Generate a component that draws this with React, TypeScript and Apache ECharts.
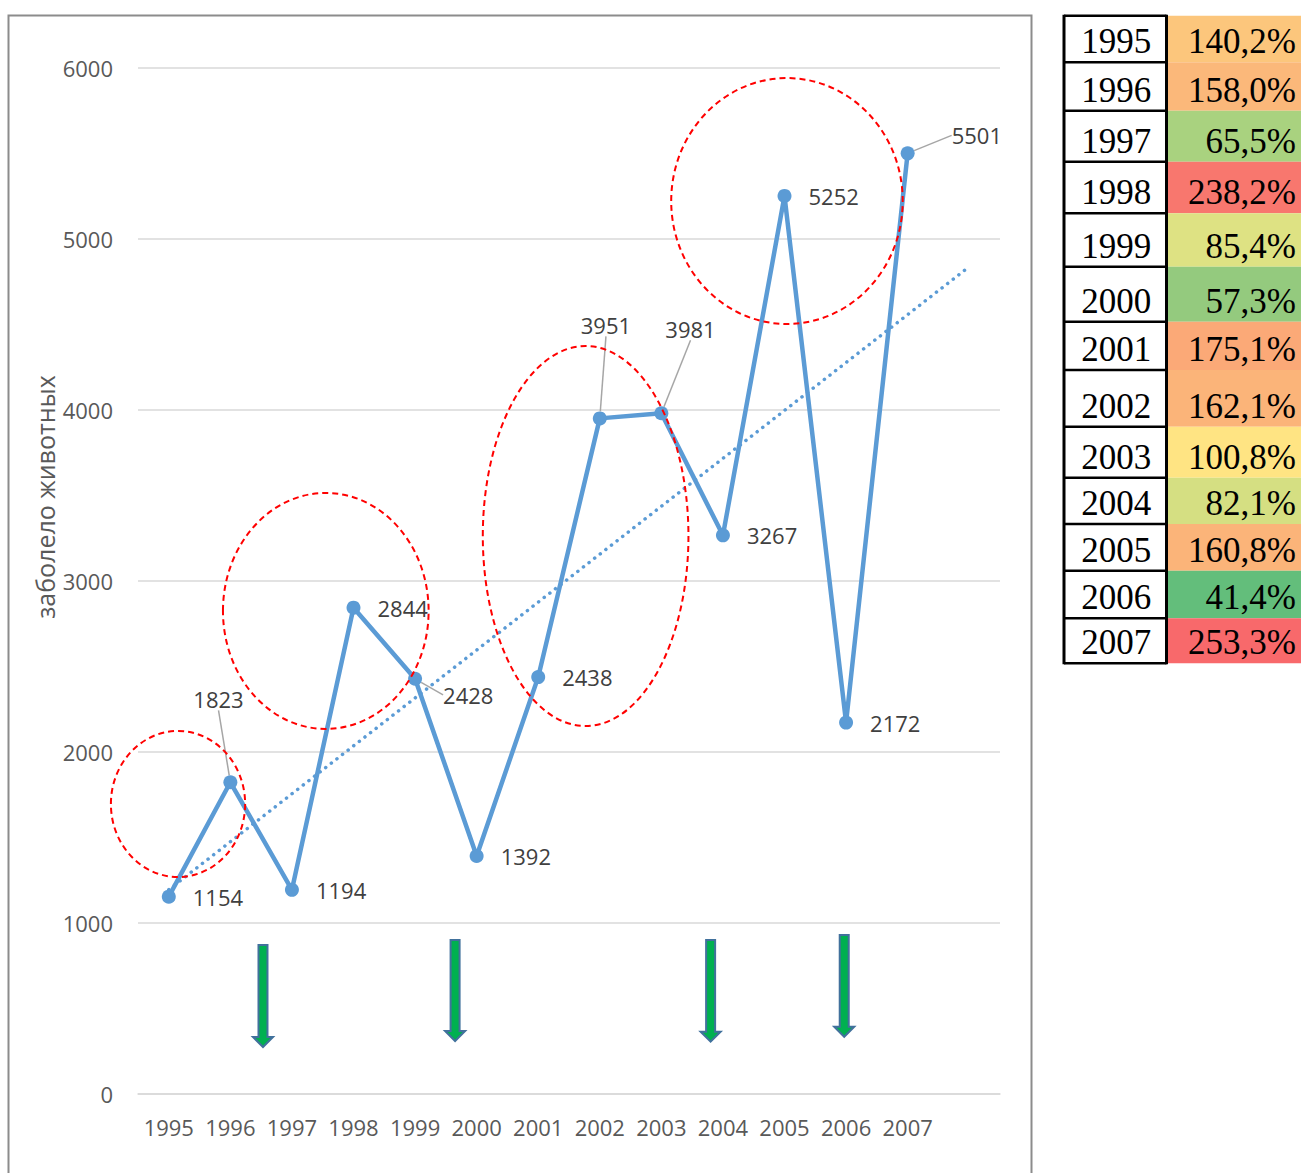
import React, { useEffect, useRef } from "react";
import * as echarts from "echarts";

// ---------- data ----------
const years = ["1995", "1996", "1997", "1998", "1999", "2000", "2001", "2002", "2003", "2004", "2005", "2006", "2007"];
const sickAnimals = [1154, 1823, 1194, 2844, 2428, 1392, 2438, 3951, 3981, 3267, 5252, 2172, 5501];
// linear trend: value at 1995 and one period after 2007
const trendStartEnd = [1195, 4838];
const growthLabels = ["140,2%", "158,0%", "65,5%", "238,2%", "85,4%", "57,3%", "175,1%", "162,1%", "100,8%", "82,1%", "160,8%", "41,4%", "253,3%"];
const growthColors = ["#FCC67C", "#FBB87A", "#A9D27F", "#F8776E", "#DEE283", "#94CA7E", "#FBA977", "#FBB479", "#FFE483", "#D5DF82", "#FBB479", "#63BE7B", "#F8696B"];
const yAxisName = "заболело животных";

// ---------- layout / annotations ----------
const labelShift: number[][] = [[0, 0], [-61, -83], [0, 0], [0, 0], [4, 16], [0, 0], [0, 0], [-43, -93], [-20, -84], [0, 0], [0, 0], [0, 0], [20, -18]];
// ellipse: centre (category index, value), radii (category units, value units)
const ellipses = [
  { cx: 0.15, cy: 1696, rx: 1.09, ry: 427 },
  { cx: 2.55, cy: 2825, rx: 1.67, ry: 690 },
  { cx: 6.77, cy: 3263, rx: 1.67, ry: 1111 },
  { cx: 10.04, cy: 5222, rx: 1.88, ry: 719 },
];
const arrows = [
  { ix: 1.53, top: 871, tip: 275 },
  { ix: 4.65, top: 901, tip: 310 },
  { ix: 8.8, top: 901, tip: 306 },
  { ix: 10.97, top: 930, tip: 335 },
];
const tableRows = [15.7, 62.3, 110.7, 161.7, 213.3, 266.7, 321.7, 370, 426.7, 477.7, 524, 570.7, 618.3, 663.3];

const FONT = "Open Sans";
const SERIF = "Liberation Serif";

export default function App() {
  const ref = useRef<HTMLDivElement>(null);
  useEffect(() => {
    document.body.style.margin = "0";
    const chart = echarts.init(ref.current!, null, { renderer: "svg" });
    const cats = [...years, ""];
    const trendData: any[] = [[0, trendStartEnd[0]], [cats.length - 1, trendStartEnd[1]]];
    chart.setOption({
      animation: false,
      backgroundColor: "#ffffff",
      grid: { left: 138, right: 301, top: 68, bottom: 79, containLabel: false },
      xAxis: {
        type: "category",
        data: cats,
        boundaryGap: true,
        axisLine: { show: true, lineStyle: { color: "#D9D9D9", width: 1.5 } },
        axisTick: { show: false },
        axisLabel: { color: "#595959", fontSize: 22, fontFamily: FONT, margin: 22, interval: 0 },
      },
      yAxis: {
        type: "value",
        min: 0,
        max: 6000,
        interval: 1000,
        axisLine: { show: false },
        axisTick: { show: false },
        axisLabel: { color: "#595959", fontSize: 22, fontFamily: FONT, margin: 25, formatter: (v: number) => String(v) },
        splitLine: { lineStyle: { color: "#D9D9D9", width: 1.5 } },
      },
      series: [
        {
          type: "line",
          data: trendData,
          symbol: "none",
          z: 1,
          lineStyle: { color: "#5B9BD5", width: 3.5, type: [0.1, 7], cap: "round" },
          silent: true,
        },
        {
          type: "line",
          data: sickAnimals.map((v, i) => ({
            value: v,
            labelLine: { show: labelShift[i][0] !== 0 || labelShift[i][1] !== 0 },
          })),
          z: 3,
          symbol: "circle",
          symbolSize: 14,
          itemStyle: { color: "#5B9BD5" },
          lineStyle: { color: "#5B9BD5", width: 4.5 },
          label: {
            show: true,
            position: "right",
            distance: 17,
            color: "#404040",
            fontSize: 22,
            fontFamily: FONT,
          },
          labelLine: { show: false, lineStyle: { color: "#A6A6A6", width: 1.5 } },
          labelLayout: (p: any) => {
            if (p.seriesIndex !== 1) return {};
            const s = labelShift[p.dataIndex] || [0, 0];
            if (p.dataIndex === sickAnimals.length - 1 && p.rect && p.labelRect) {
              const cx = p.rect.x + p.rect.width / 2;
              const cy = p.rect.y + p.rect.height / 2;
              const lx = p.labelRect.x + s[0];
              const ly = p.labelRect.y + s[1] + p.labelRect.height / 2;
              return {
                dx: s[0],
                dy: s[1],
                labelLinePoints: [[cx + 3, cy - 3], [lx - 20, ly], [lx - 6, ly]],
              };
            }
            return { dx: s[0], dy: s[1] };
          },
        },
      ],
    });

    const x0 = chart.convertToPixel({ xAxisIndex: 0 }, 0) as number;
    const x1 = chart.convertToPixel({ xAxisIndex: 0 }, 1) as number;
    const step = x1 - x0;
    const px = (i: number) => x0 + i * step;
    const py = (v: number) => chart.convertToPixel({ yAxisIndex: 0 }, v) as number;

    const g: any[] = [];
    g.push({
      type: "rect",
      z: 0,
      silent: true,
      shape: { x: 8.5, y: 15.5, width: 1023, height: 1200 },
      style: { fill: "none", stroke: "#8C8C8C", lineWidth: 2 },
    });
    ellipses.forEach((e) => {
      g.push({
        type: "ellipse",
        z: 10,
        silent: true,
        shape: { cx: px(e.cx), cy: py(e.cy), rx: Math.abs(px(e.cx + e.rx) - px(e.cx)), ry: Math.abs(py(e.cy) - py(e.cy + e.ry)) },
        style: { fill: "none", stroke: "#FF0000", lineWidth: 2, lineDash: [6, 4] },
      });
    });
    arrows.forEach((a) => {
      const cx = px(a.ix);
      const yt = py(a.top);
      const yTip = py(a.tip);
      const yHead = yTip - 10;
      g.push({
        type: "polygon",
        z: 10,
        silent: true,
        shape: {
          points: [
            [cx - 4.5, yt], [cx + 4.5, yt], [cx + 4.5, yHead], [cx + 10, yHead], [cx, yTip], [cx - 10, yHead], [cx - 4.5, yHead],
          ],
        },
        style: { fill: "#00B050", stroke: "#41719C", lineWidth: 2 },
      });
    });
    g.push({
      type: "text",
      z: 10,
      x: 45,
      y: 497,
      rotation: Math.PI / 2,
      style: { text: yAxisName, fill: "#595959", fontSize: 25, fontFamily: FONT, align: "center", verticalAlign: "middle" },
    });

    // table
    const tL = 1064, tM = 1166.5;
    years.forEach((y, i) => {
      const top = tableRows[i];
      const bot = tableRows[i + 1];
      g.push({
        type: "rect",
        z: 5,
        silent: true,
        shape: { x: tM + 1, y: top, width: 1301 - tM, height: bot - top },
        style: { fill: growthColors[i] },
      });
      g.push({
        type: "text",
        z: 7,
        x: (tL + tM) / 2 + 1,
        y: bot - 20.5,
        style: { text: y, fill: "#000000", fontSize: 35, fontFamily: SERIF, align: "center", verticalAlign: "middle" },
      });
      g.push({
        type: "text",
        z: 7,
        x: 1296,
        y: bot - 20.5,
        style: { text: growthLabels[i], fill: "#000000", fontSize: 35, fontFamily: SERIF, align: "right", verticalAlign: "middle" },
      });
    });
    tableRows.forEach((r) => {
      g.push({
        type: "line",
        z: 8,
        silent: true,
        shape: { x1: tL, y1: r, x2: tM, y2: r },
        style: { stroke: "#000000", lineWidth: 2.5 },
      });
    });
    [tL, tM].forEach((x) => {
      g.push({
        type: "line",
        z: 8,
        silent: true,
        shape: { x1: x, y1: tableRows[0] - 1, x2: x, y2: tableRows[tableRows.length - 1] + 1 },
        style: { stroke: "#000000", lineWidth: 3 },
      });
    });

    chart.setOption({ graphic: g });
    return () => chart.dispose();
  }, []);
  return <div ref={ref} style={{ position: "absolute", left: 0, top: 0, width: 1301, height: 1173 }} />;
}
